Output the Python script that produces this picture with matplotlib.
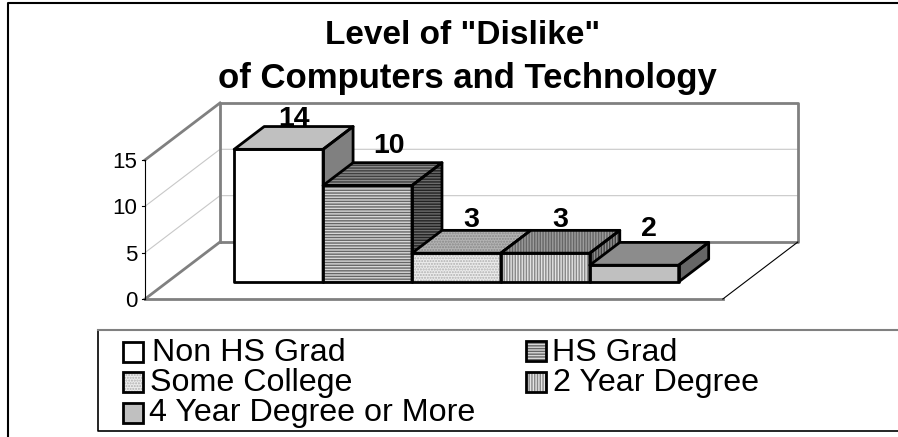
import matplotlib
matplotlib.use("Agg")
import matplotlib.pyplot as plt
from matplotlib.patches import Polygon, Rectangle
from matplotlib.transforms import Affine2D

plt.rcParams['font.family'] = ['Liberation Sans', 'DejaVu Sans']
plt.rcParams['hatch.linewidth'] = 1.0

categories = ['Non HS Grad', 'HS Grad', 'Some College', '2 Year Degree', '4 Year Degree or More']
heights = [14.3, 10.4, 3.1, 3.1, 1.8]
value_labels = ['14', '10', '3', '3', '2']
y_ticks = [0, 5, 10, 15]

# shades: front, top, side, hatch pattern, hatch colour for front/top/side
front_col = ['#ffffff', '#d8d8d8', '#ececec', '#e4e4e4', '#c0c0c0']
top_col = ['#c0c0c0', '#8c8c8c', '#b4b4b4', '#9c9c9c', '#8c8c8c']
side_col = ['#808080', '#6c6c6c', '#6c6c6c', '#909090', '#666666']
hatches = [None, '------', '......', '||||||', None]
hatch_col = ['#000000', '#666666', '#b0b0b0', '#888888', '#000000']
hatch_top = ['#000000', '#404040', '#888888', '#666666', '#000000']
hatch_side = ['#000000', '#222222', '#444444', '#444444', '#000000']

# label nudges in pixels, the original labels were placed by hand
label_dx = [0, 6, 0, 0, 0]
label_dy = [-1, -10, -3, -3, -6]

fig = plt.figure(figsize=(8.98, 4.37), dpi=100)
ax = fig.add_axes([0, 0, 1, 1])

# x unit is one bar width, y unit is one value unit
unit_x = 88.9
unit_y = 9.27
x0_px, y0_px = 145, 299
ax.set_xlim(-x0_px / unit_x, (898 - x0_px) / unit_x)
ax.set_ylim((y0_px - 437) / unit_y, y0_px / unit_y)
ax.axis('off')

depth_x = 75 / unit_x
depth_y = 57 / unit_y
plot_w = 6.5
y_top = y_ticks[-1]


def pr(x, v, d):
    return (x + d * depth_x, v + d * depth_y)


px = Affine2D().scale(1 / 898, -1 / 437).translate(0, 1) + fig.transFigure

# walls
for t in y_ticks[1:-1]:
    ax.plot(*zip(pr(0, t, 0), pr(0, t, 1), pr(plot_w, t, 1)), color='#c8c8c8', lw=0.8, zorder=1)
ax.plot(*zip(pr(0, 0, 1), pr(0, y_top, 1), pr(plot_w, y_top, 1), pr(plot_w, 0, 1), pr(0, 0, 1)),
        color='#808080', lw=2, zorder=1)
ax.plot(*zip(pr(0, y_top, 0), pr(0, y_top, 1)), color='#808080', lw=2, zorder=1)
ax.plot(*zip(pr(0, 0, 0), pr(0, 0, 1)), color='#808080', lw=2, zorder=1)
ax.plot(*zip(pr(0, 0, 0), pr(plot_w, 0, 0)), color='#808080', lw=2, zorder=1)
ax.plot(*zip(pr(plot_w, 0, 0), pr(plot_w, 0, 1)), color='#000000', lw=0.8, zorder=1)
ax.plot(*zip(pr(0, 0, 0), pr(0, y_top, 0)), color='#000000', lw=0.8, zorder=1)

for t in y_ticks:
    ax.plot(*zip(pr(-0.03, t, 0), pr(0, t, 0)), color='#000000', lw=0.8, zorder=1)
    x, y = pr(-0.085, t, 0)
    ax.text(x, y, str(t), ha='right', va='center_baseline', fontsize=16, color='#000000')


def face(pts, fc, hatch, hc, z):
    if hatch:
        ax.add_patch(Polygon(pts, facecolor=fc, edgecolor=hc, hatch=hatch, lw=0, zorder=z))
    else:
        ax.add_patch(Polygon(pts, facecolor=fc, edgecolor='none', zorder=z))
    ax.add_patch(Polygon(pts, fill=False, edgecolor='#000000', lw=2, joinstyle='round', zorder=z + 0.5))


# bars, left to right so later ones cover the side of the earlier one
d1, d2 = 0.3, 0.7
for i, h in enumerate(heights):
    l = 0.75 + i
    r = l + 1
    z = 3 + i
    face([pr(r, 0, d1), pr(r, 0, d2), pr(r, h, d2), pr(r, h, d1)], side_col[i], hatches[i], hatch_side[i], z)
    face([pr(l, h, d1), pr(r, h, d1), pr(r, h, d2), pr(l, h, d2)], top_col[i], hatches[i], hatch_top[i], z)
    face([pr(l, 0, d1), pr(r, 0, d1), pr(r, h, d1), pr(l, h, d1)], front_col[i], hatches[i], hatch_col[i], z)
    x = pr(l + 0.5, h, 0.5)[0]
    y = pr(l + 0.5, h, d2)[1]
    ax.annotate(value_labels[i], (x, y), xytext=(label_dx[i] * 0.72, -label_dy[i] * 0.72),
                textcoords='offset points', ha='center', va='baseline', fontsize=20.5,
                fontweight='bold', zorder=2)

# title
ax.text(462.5, 44, 'Level of "Dislike"', transform=px, ha='center', va='baseline', fontsize=24, fontweight='bold')
ax.text(467.5, 88, 'of Computers and Technology', transform=px, ha='center', va='baseline', fontsize=25, fontweight='bold')

# outer border, runs off the right and bottom of the picture
ax.plot([8, 8, 898], [437, 2.5, 2.5], transform=px, color='#000000', lw=1.5, clip_on=False)

# legend
ax.plot([898, 97.5, 97.5, 898], [330, 330, 430.5, 430.5], transform=px, color='#000000', lw=1.2, clip_on=False)
ax.plot([97.5, 898], [330, 330], transform=px, color='#808080', lw=1.5, clip_on=False)
leg_x = [123, 526, 123, 526, 123]
leg_y = [352, 351, 382, 382, 413]
leg_text_x = [152.5, 552.5, 150.5, 553, 149]
leg_base = [361, 361, 391.5, 391.5, 421.5]
for i, name in enumerate(categories):
    ax.add_patch(Rectangle((leg_x[i], leg_y[i] - 10), 20, 20, transform=px, facecolor=front_col[i],
                           edgecolor=hatch_col[i] if hatches[i] else 'none', hatch=hatches[i], lw=0, zorder=5))
    ax.add_patch(Rectangle((leg_x[i], leg_y[i] - 10), 20, 20, transform=px, fill=False,
                           edgecolor='#000000', lw=2, zorder=6))
    ax.text(leg_text_x[i], leg_base[i], name, transform=px, ha='left', va='baseline', fontsize=23.2, zorder=6)

fig.savefig('out.png', dpi=100)
